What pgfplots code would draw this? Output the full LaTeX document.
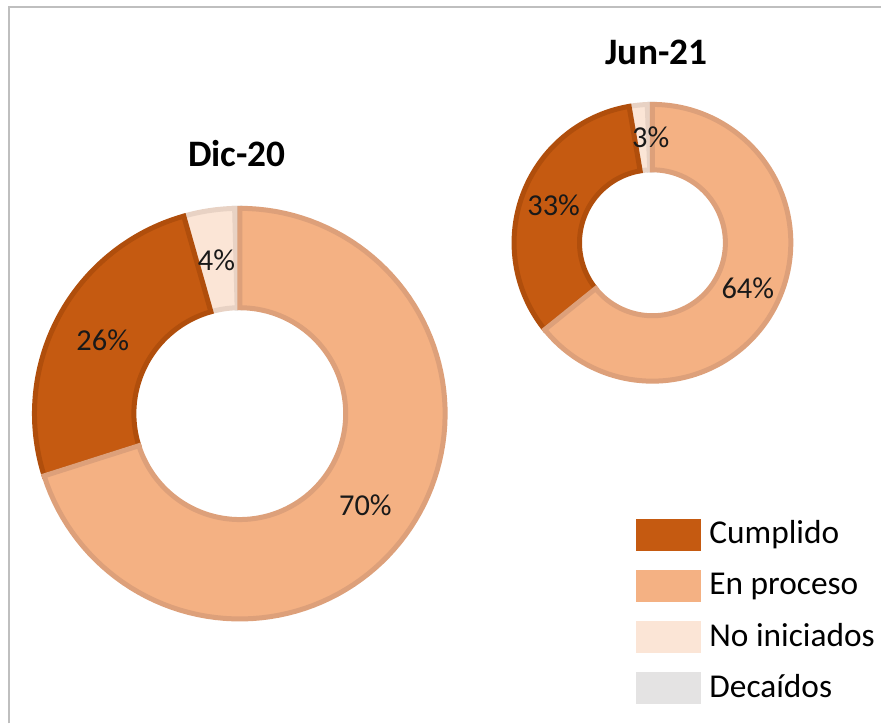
\documentclass[border=0pt]{standalone}
\usepackage{fontspec}
\setmainfont{Carlito}
\usepackage{pgfplots}
\usepackage{pgfplotstable}
\pgfplotsset{compat=1.18}

\definecolor{cumpF}{HTML}{C55A11}
\definecolor{cumpL}{HTML}{B04E0C}
\definecolor{procF}{HTML}{F4B183}
\definecolor{procL}{HTML}{DDA07A}
\definecolor{noiniF}{HTML}{FBE5D6}
\definecolor{noiniL}{HTML}{E8D2C4}
\definecolor{decaF}{HTML}{E4E3E3}
\definecolor{decaL}{HTML}{CFCFCF}
\definecolor{framec}{HTML}{BFBFBF}

% slices listed counterclockwise from 12 o'clock
\pgfplotstableread{
cat c val lab off
Decaidos deca 0.4 0 0
NoIniciados noini 4.0 4 0
Cumplido cump 25.5 26 0
EnProceso proc 70.1 70 0
}\dicdata
\pgfplotstableread{
cat c val lab off
Decaidos deca 0.6 0 0
NoIniciados noini 2.1 3 -5
Cumplido cump 33.1 33 0
EnProceso proc 64.2 64 0
}\jundata

\tikzset{lbl/.style={font=\fontsize{30.5}{36}\selectfont, text=black!90}}

\newcommand{\donut}[5]{% table, cx, cy, R, r
  \def\angstart{90}%
  \pgfplotsforeachungrouped \k in {0,1,2,3}{%
    \pgfplotstablegetelem{\k}{val}\of#1\let\slv\pgfplotsretval
    \pgfplotstablegetelem{\k}{c}\of#1\let\slc\pgfplotsretval
    \pgfmathsetmacro\angend{\angstart+3.6*\slv}%
    \edef\doslice{\noexpand\addplot[forget plot, fill=\slc F, draw=\slc L, line width=5bp, domain=0:2.1, samples=211, variable=\noexpand\t, mark=none]
      ({#2+((\noexpand\t<=1) ? (#4*cos(\angstart+(\angend-\angstart)*\noexpand\t)) : ((\noexpand\t<=1.1) ? ((#4-(#4-#5)*(\noexpand\t-1)/0.1)*cos(\angend)) : (#5*cos(\angend-(\angend-\angstart)*(\noexpand\t-1.1)))))},
       {#3+((\noexpand\t<=1) ? (#4*sin(\angstart+(\angend-\angstart)*\noexpand\t)) : ((\noexpand\t<=1.1) ? ((#4-(#4-#5)*(\noexpand\t-1)/0.1)*sin(\angend)) : (#5*sin(\angend-(\angend-\angstart)*(\noexpand\t-1.1)))))}) -- cycle;}%
    \doslice
    \let\angstart\angend
  }%
  \def\angstart{90}%
  \pgfplotsforeachungrouped \k in {0,1,2,3}{%
    \pgfplotstablegetelem{\k}{val}\of#1\let\slv\pgfplotsretval
    \pgfplotstablegetelem{\k}{lab}\of#1\let\slab\pgfplotsretval
    \pgfplotstablegetelem{\k}{off}\of#1\let\sloff\pgfplotsretval
    \pgfmathsetmacro\angend{\angstart+3.6*\slv}%
    \pgfmathsetmacro\midang{(\angstart+\angend)/2+\sloff}%
    \pgfmathsetmacro\lx{#2+(#4+#5)/2*cos(\midang)}%
    \pgfmathsetmacro\ly{#3+(#4+#5)/2*sin(\midang)}%
    \ifnum\slab>0
      \edef\dolab{\noexpand\node[lbl] at (axis cs:\lx,\ly) {\slab\noexpand\%};}%
      \dolab
    \fi
    \let\angstart\angend
  }%
}

\begin{document}
\begin{tikzpicture}
\begin{axis}[
  width=882bp, height=724bp, scale only axis,
  xmin=0, xmax=882, ymin=0, ymax=724,
  hide axis, clip=false,
  legend image code/.code={\fill[#1, draw=none] (0bp,-7bp) rectangle (65bp,25bp);},
  legend style={at={(axis cs:637,205)}, anchor=north west, draw=none, fill=none,
    inner sep=0pt, outer sep=0pt, row sep=19.3bp,
    font=\fontsize{33.5}{38}\selectfont,
    cells={anchor=base west},
    nodes={inner sep=0pt, outer sep=0pt},
    /tikz/every odd column/.append style={column sep=8bp}},
]
\path (axis cs:0,0) rectangle (axis cs:882,724);
\draw[framec, line width=1.5bp] (axis cs:9,0) -- (axis cs:9,717) -- (axis cs:882,717);

\donut{\dicdata}{240}{310}{205.5}{106}
\donut{\jundata}{653}{481}{138.5}{73}

\node[font=\bfseries\fontsize{37.5}{42}\selectfont, anchor=base] at (axis cs:237,557) {Dic-20};
\node[font=\bfseries\fontsize{37.5}{42}\selectfont, anchor=base] at (axis cs:657,659) {Jun-21};

\addlegendimage{fill=cumpF}
\addlegendentry{Cumplido}
\addlegendimage{fill=procF}
\addlegendentry{En proceso}
\addlegendimage{fill=noiniF}
\addlegendentry{No iniciados}
\addlegendimage{fill=decaF}
\addlegendentry{Decaídos}
\end{axis}
\end{tikzpicture}
\end{document}
